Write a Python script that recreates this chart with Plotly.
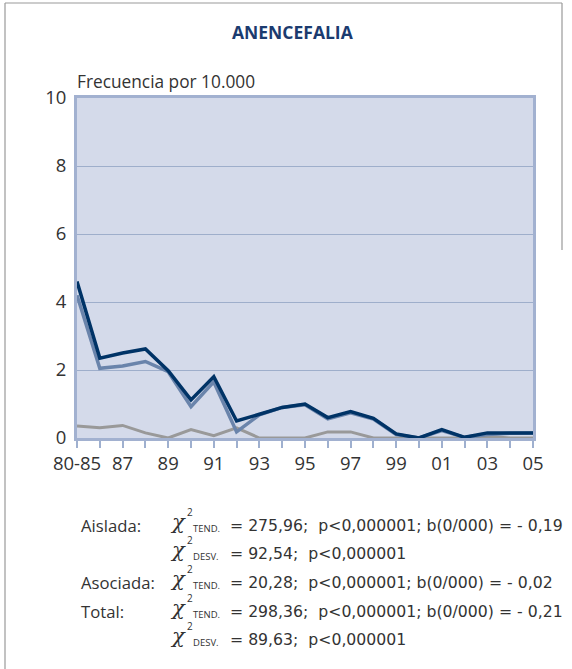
import plotly.graph_objects as go

# ---------------- data ----------------
categories = ["80-85", "86", "87", "88", "89", "90", "91", "92", "93", "94", "95",
              "96", "97", "98", "99", "00", "01", "02", "03", "04", "05"]
tick_labels = ["80-85", "", "87", "", "89", "", "91", "", "93", "", "95",
               "", "97", "", "99", "", "01", "", "03", "", "05"]
total = [4.60, 2.35, 2.50, 2.62, 1.98, 1.12, 1.80, 0.50, 0.70, 0.90, 1.00,
         0.60, 0.78, 0.58, 0.12, 0.00, 0.25, 0.02, 0.15, 0.14, 0.15]
aislada = [4.20, 2.05, 2.12, 2.25, 1.95, 0.92, 1.65, 0.18, 0.68, 0.90, 0.98,
           0.56, 0.74, 0.56, 0.10, 0.00, 0.22, 0.02, 0.10, 0.14, 0.15]
asociada = [0.35, 0.30, 0.37, 0.15, 0.00, 0.25, 0.07, 0.30, 0.00, 0.00, 0.00,
            0.18, 0.18, 0.00, 0.00, 0.00, 0.00, 0.00, 0.05, 0.00, 0.00]

stat_labels = ["Aislada:", "", "Asociada:", "Total:", ""]
stat_subs = ["TEND.", "DESV.", "TEND.", "TEND.", "DESV."]
stat_texts = ["= 275,96;  p<0,000001; b(0/000) = - 0,19",
              "= 92,54;  p<0,000001",
              "= 20,28;  p<0,000001; b(0/000) = - 0,02",
              "= 298,36;  p<0,000001; b(0/000) = - 0,21",
              "= 89,63;  p<0,000001"]

# ---------------- layout geometry ----------------
W, H = 572, 669
L, R, T, B = 77, 533, 98, 438
FONT = "Open Sans"
TXT = "#333333"

def xp(px):
    return (px - L) / (R - L)

def yp(py):
    return (B - py) / (B - T)

xs = list(range(len(categories)))

fig = go.Figure()
fig.add_trace(go.Scatter(x=xs, y=asociada, mode="lines", name="Asociada",
                         line=dict(color="#999999", width=3)))
fig.add_trace(go.Scatter(x=xs, y=aislada, mode="lines", name="Aislada",
                         line=dict(color="#6a84ab", width=3.5)))
fig.add_trace(go.Scatter(x=xs, y=total, mode="lines", name="Total",
                         line=dict(color="#003366", width=3.5)))

fig.update_layout(
    width=W, height=H,
    margin=dict(l=L, r=W - R, t=T, b=H - B, pad=0),
    paper_bgcolor="white", plot_bgcolor="#d4daea",
    showlegend=False,
    font=dict(family=FONT, color=TXT, size=16),
)
fig.update_xaxes(
    range=[0, len(categories) - 1], tickmode="array", tickvals=xs, ticktext=tick_labels,
    ticks="outside", ticklen=7, tickwidth=1.5, tickcolor="#9fb0cf",
    showgrid=False, zeroline=False,
    showline=True, mirror=True, linecolor="#a2b1d0", linewidth=3,
    tickfont=dict(size=18.5, color=TXT, family=FONT),
)
fig.update_yaxes(
    range=[0, 10], dtick=2, showgrid=True, gridcolor="#9eaecb", gridwidth=1,
    zeroline=False, ticks="", showline=True, mirror=True,
    linecolor="#a2b1d0", linewidth=3, ticklabelstandoff=4,
    tickfont=dict(size=18.5, color=TXT, family=FONT),
)

ann = []
ann.append(dict(x=xp(293), y=yp(32), xref="paper", yref="paper", showarrow=False,
                text="<b>ANENCEFALIA</b>", font=dict(size=17.5, color="#1b3b6f", family=FONT),
                xanchor="center", yanchor="middle"))
ann.append(dict(x=xp(75), y=yp(82), xref="paper", yref="paper", showarrow=False,
                text="Frecuencia por 10.000", font=dict(size=17.3, color=TXT, family=FONT),
                xanchor="left", yanchor="middle"))

line_y = [525, 553, 582, 611, 639]
for lab, sub, txt, y in zip(stat_labels, stat_subs, stat_texts, line_y):
    if lab:
        ann.append(dict(x=xp(79), y=yp(y), xref="paper", yref="paper", showarrow=False,
                        text=lab, font=dict(size=16.7, color=TXT, family=FONT),
                        xanchor="left", yanchor="middle"))
    ann.append(dict(x=xp(168), y=yp(y - 3), xref="paper", yref="paper", showarrow=False,
                    text="<i>χ</i>", font=dict(size=21, color=TXT, family="DejaVu Serif"),
                    xanchor="left", yanchor="middle"))
    ann.append(dict(x=xp(185), y=yp(y - 13), xref="paper", yref="paper", showarrow=False,
                    text="2", font=dict(size=10, color=TXT, family=FONT),
                    xanchor="left", yanchor="middle"))
    ann.append(dict(x=xp(191), y=yp(y + 3), xref="paper", yref="paper", showarrow=False,
                    text=sub, font=dict(size=9.5, color=TXT, family=FONT),
                    xanchor="left", yanchor="middle"))
    ann.append(dict(x=xp(228), y=yp(y), xref="paper", yref="paper", showarrow=False,
                    text=txt, font=dict(size=15.7, color=TXT, family="DejaVu Sans"),
                    xanchor="left", yanchor="middle"))

fig.update_layout(annotations=ann)

# outer frame
fig.add_shape(type="line", xref="paper", yref="paper",
              x0=xp(5), y0=yp(669), x1=xp(5), y1=yp(3),
              line=dict(color="#999999", width=1.2))
fig.add_shape(type="line", xref="paper", yref="paper",
              x0=xp(5), y0=yp(3), x1=xp(562), y1=yp(3),
              line=dict(color="#999999", width=1.2))
fig.add_shape(type="line", xref="paper", yref="paper",
              x0=xp(562), y0=yp(3), x1=xp(562), y1=yp(250),
              line=dict(color="#999999", width=1.2))

fig.write_html("out.html", config={"displayModeBar": False},
               post_script="document.body.style.margin='0';document.body.style.overflow='hidden';")
